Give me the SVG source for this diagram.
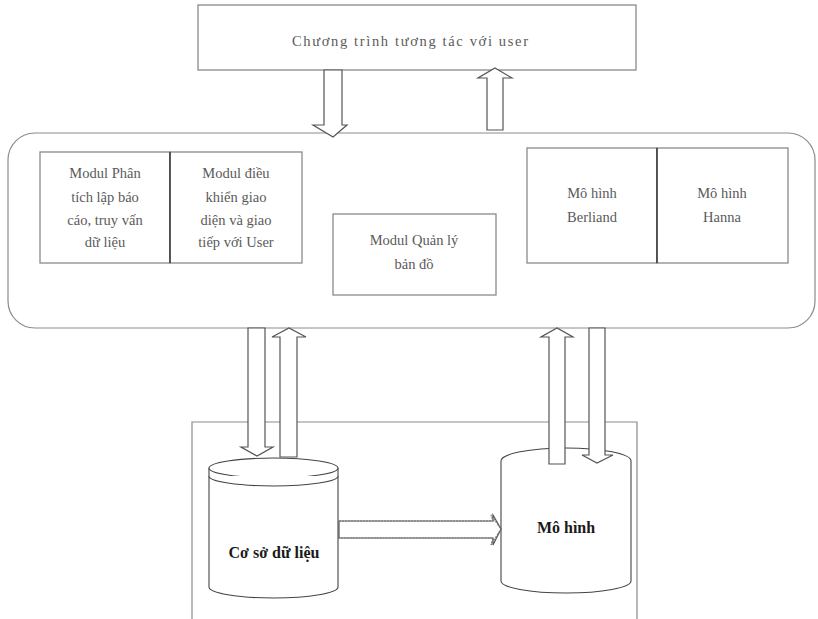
<svg xmlns="http://www.w3.org/2000/svg" width="818" height="619" viewBox="0 0 818 619">
  <style>
    .frame { fill: none; stroke: #8c8c8c; stroke-width: 1.2; }
    .box { fill: #ffffff; stroke: #8a8a8a; stroke-width: 1.3; }
    .divider { stroke: #2a2a2a; stroke-width: 1.3; }
    .arrow { fill: #ffffff; stroke: #555555; stroke-width: 1.2; stroke-linejoin: miter; }
    .cyl { fill: #ffffff; stroke: #444444; stroke-width: 1.1; }
    .dotted { fill: none; stroke: #777777; stroke-width: 1.2; stroke-dasharray: 2 1; }
    .label { font-family: "Liberation Serif", "Times New Roman", serif; font-size: 14.5px; fill: #5a5a5a; text-anchor: middle; }
    .big { font-family: "Liberation Serif", "Times New Roman", serif; font-size: 16px; font-weight: bold; fill: #1a1a1a; text-anchor: middle; }
  </style>

  <!-- user interface program -->
  <g id="user-program">
    <rect class="box" x="198" y="5" width="438" height="65"/>
    <text class="label" x="410" y="46" font-size="15" textLength="236" lengthAdjust="spacing">Chương trình tương tác với user</text>
  </g>

  <!-- main system container -->
  <g id="system">
    <rect class="frame" x="8" y="133" width="807" height="195" rx="27" ry="27"/>
  </g>

  <g id="modul-phan-tich">
    <rect class="box" x="40" y="152" width="130" height="111"/>
    <text class="label" x="105" y="178">Modul Phân</text>
    <text class="label" x="105" y="202">tích lập báo</text>
    <text class="label" x="105" y="225">cáo, truy vấn</text>
    <text class="label" x="105" y="247">dữ liệu</text>
  </g>

  <g id="modul-giao-dien">
    <rect class="box" x="170" y="152" width="132" height="111"/>
    <line class="divider" x1="170" y1="152" x2="170" y2="263"/>
    <text class="label" x="236" y="178">Modul điều</text>
    <text class="label" x="236" y="202">khiển giao</text>
    <text class="label" x="236" y="225">diện và giao</text>
    <text class="label" x="236" y="247">tiếp với User</text>
  </g>

  <g id="modul-ban-do">
    <rect class="box" x="333" y="214" width="163" height="81"/>
    <text class="label" x="414" y="245">Modul Quản lý</text>
    <text class="label" x="414" y="269">bản đồ</text>
  </g>

  <g id="mo-hinh-berliand">
    <rect class="box" x="527" y="148" width="130" height="115"/>
    <text class="label" x="592" y="198">Mô hình</text>
    <text class="label" x="592" y="222">Berliand</text>
  </g>

  <g id="mo-hinh-hanna">
    <rect class="box" x="657" y="148" width="131" height="115"/>
    <line class="divider" x1="657" y1="148" x2="657" y2="263"/>
    <text class="label" x="722" y="198">Mô hình</text>
    <text class="label" x="722" y="222">Hanna</text>
  </g>

  <!-- storage frame -->
  <g id="storage">
    <path class="frame" d="M192,619 V422 H637 V619"/>
  </g>

  <g id="co-so-du-lieu">
    <path class="cyl" d="M209,468 V587 A64.5,11 0 0 0 338,587 V468 A64.5,10 0 0 0 209,468 Z"/>
    <path class="cyl" fill="none" d="M209,468 A64.5,10 0 0 0 338,468"/>
    <path class="cyl" fill="none" d="M209,476 A64.5,10 0 0 0 338,476"/>
    <text class="big" x="274" y="558" font-size="15.5">Cơ sở dữ liệu</text>
  </g>

  <g id="mo-hinh">
    <path class="cyl" d="M501,461 V581 A65,12 0 0 0 631,581 V461 A65,13 0 0 0 501,461 Z"/>
    <text class="big" x="566" y="533" font-size="14">Mô hình</text>
  </g>

  <!-- block arrows -->
  <g id="connectors">
    <!-- program -> system -->
    <path class="arrow" d="M324,70 V125 H313 L333,137 L347,125 H342 V70 Z"/>
    <!-- system -> program -->
    <path class="arrow" d="M487,130 V78 H478 L495,68 L512,78 H503 V130 Z"/>
    <!-- system -> database -->
    <path class="arrow" d="M248,328 V447 H241 L257,456 L273,447 H265 V328 Z"/>
    <!-- database -> system -->
    <path class="arrow" d="M280,457 V337 H272 L289,328 L306,337 H297 V457 Z"/>
    <!-- model -> system -->
    <path class="arrow" d="M549,464 V337 H541 L557,328 L573,337 H565 V464 Z"/>
    <!-- system -> model -->
    <path class="arrow" d="M589,328 V455 H582 L597,463 L613,455 H605 V328 Z"/>
    <!-- database -> model -->
    <path class="arrow" stroke="none" d="M339,521 H493 V515 L501,529 L493,545 V538 H339 Z"/>
    <path class="dotted" d="M339,521 H493 L491,515 L501,529 L491,545 L493,538 H339"/>
  </g>
</svg>
